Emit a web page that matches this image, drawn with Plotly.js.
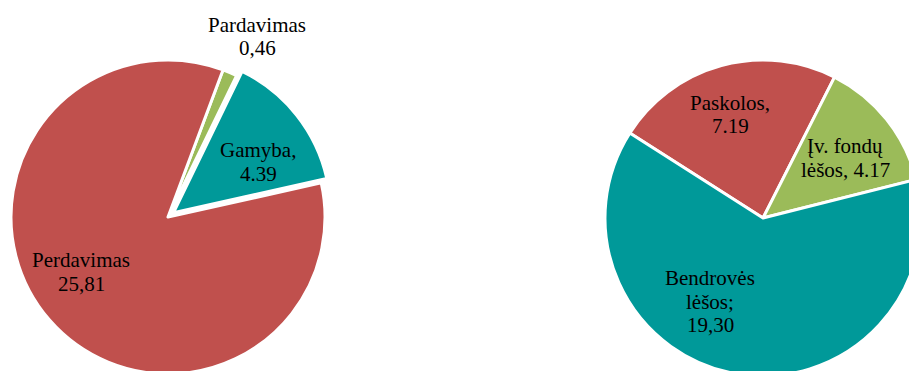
<!DOCTYPE html>
<html>
<head>
<meta charset="utf-8">
<script src="https://cdn.plot.ly/plotly-3.0.1.min.js"></script>
<style>
html,body{margin:0;padding:0;overflow:hidden;background:#fff;width:909px;height:371px;}
#chart{width:940px;height:400px;}
</style>
</head>
<body>
<div id="chart"></div>
<script>
// ---- data ----
var leftCategories = ['Pardavimas', 'Gamyba', 'Perdavimas'];
var leftValues = [0.46, 4.39, 25.81];
var leftLabelLines = [['Pardavimas', '0,46'], ['Gamyba,', '4.39'], ['Perdavimas', '25,81']];

var rightCategories = ['Paskolos', 'Įv. fondų lėšos', 'Bendrovės lėšos'];
var rightValues = [7.19, 4.17, 19.30];
var rightLabelLines = [['Paskolos,', '7.19'], ['Įv. fondų', 'lėšos, 4.17'], ['Bendrovės', 'lėšos;', '19,30']];

// ---- styles / layout ----
var W = 940, H = 400;
var leftColors = ['#9BBB59', '#009999', '#C0504D'];
var rightColors = ['#C0504D', '#9BBB59', '#009999'];
var leftPull = [0, 0.045, 0];
// label line centers in pixels (x, first line y), line step
var leftLabelPos = [[257, 25], [258, 150], [81, 260]];
var rightLabelPos = [[730, 103], [845, 146], [710, 278]];
var lineStep = 23.5;

function dom(cx, cy, r) {
  return {x: [(cx - r) / W, (cx + r) / W], y: [(H - cy - r) / H, (H - cy + r) / H]};
}

var traces = [
  {
    type: 'pie', labels: leftCategories, values: leftValues, sort: false,
    direction: 'clockwise', rotation: 20.5, pull: leftPull,
    marker: {colors: leftColors, line: {color: '#ffffff', width: 3}},
    textinfo: 'none', hoverinfo: 'label+value',
    domain: dom(168, 217, 157 * 1.045)
  },
  {
    type: 'pie', labels: rightCategories, values: rightValues, sort: false,
    direction: 'clockwise', rotation: -57.5,
    marker: {colors: rightColors, line: {color: '#ffffff', width: 3}},
    textinfo: 'none', hoverinfo: 'label+value',
    domain: dom(763, 218, 158)
  }
];

var annotations = [];
function addLabels(lines, pos) {
  for (var i = 0; i < lines.length; i++) {
    for (var j = 0; j < lines[i].length; j++) {
      annotations.push({
        xref: 'paper', yref: 'paper',
        x: pos[i][0] / W, y: 1 - (pos[i][1] + j * lineStep) / H,
        xanchor: 'center', yanchor: 'middle',
        text: lines[i][j], showarrow: false,
        font: {family: 'Liberation Serif, Times New Roman, serif', size: 21, color: '#000000'}
      });
    }
  }
}
addLabels(leftLabelLines, leftLabelPos);
addLabels(rightLabelLines, rightLabelPos);

var layout = {
  width: W, height: H,
  margin: {l: 0, r: 0, t: 0, b: 0},
  showlegend: false,
  paper_bgcolor: '#ffffff',
  annotations: annotations
};

Plotly.newPlot('chart', traces, layout, {staticPlot: true, displayModeBar: false});
</script>
</body>
</html>
